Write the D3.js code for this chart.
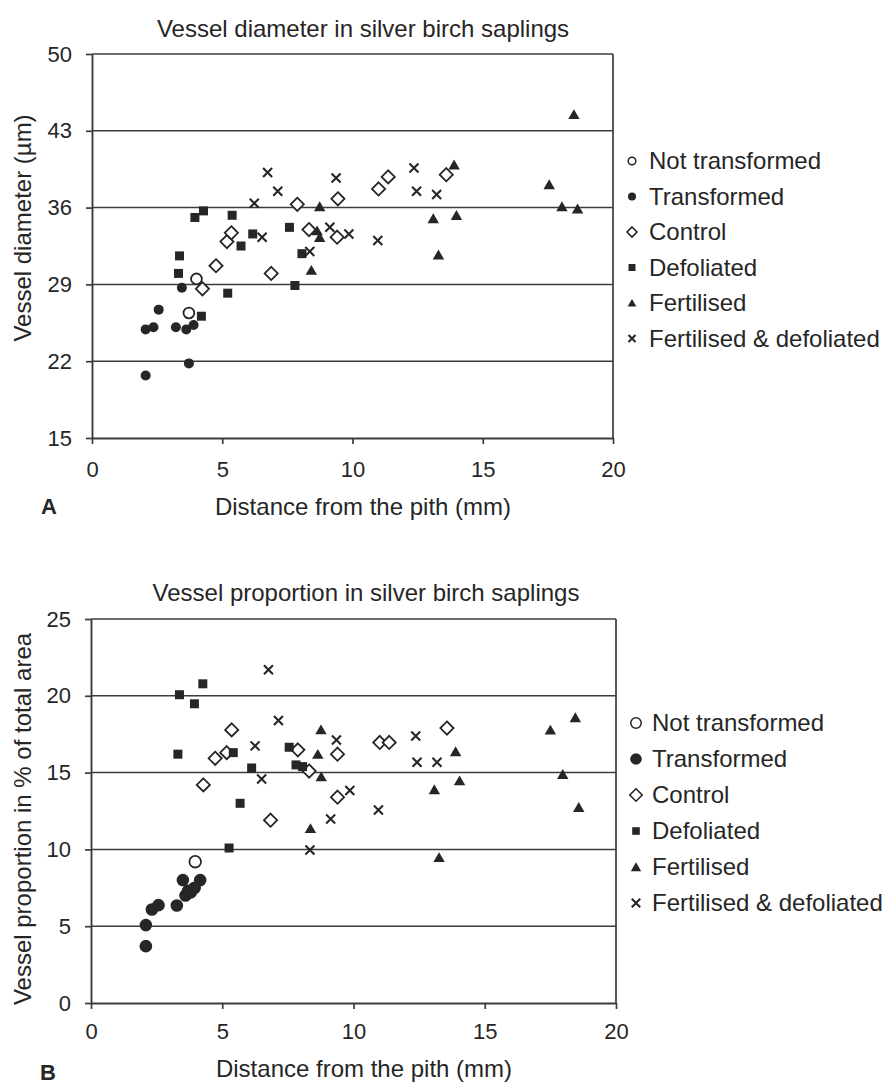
<!DOCTYPE html>
<html>
<head>
<meta charset="utf-8">
<script src="https://cdn.jsdelivr.net/npm/d3@7"></script>
<style>
  html, body { margin: 0; padding: 0; background: #fff; }
  svg { display: block; font-family: "Liberation Sans", Arial, sans-serif; }
</style>
</head>
<body>
<svg id="chart" width="884" height="1084"></svg>
<script>
// ---------- DATA ----------
const seriesNames = ["Not transformed", "Transformed", "Control", "Defoliated", "Fertilised", "Fertilised & defoliated"];
const xTicks = [0, 5, 10, 15, 20];
const yTicksA = [15, 22, 29, 36, 43, 50];
const yTicksB = [0, 5, 10, 15, 20, 25];

// Panel A: vessel diameter (µm) vs distance from pith (mm)
const notTransAx = [4.01, 3.72];
const notTransAy = [29.5, 26.4];
const transAx = [2.06, 2.36, 2.56, 3.22, 3.45, 3.62, 3.9, 2.06, 3.72];
const transAy = [24.9, 25.1, 26.7, 25.1, 28.7, 24.9, 25.3, 20.7, 21.8];
const controlAx = [4.24, 4.76, 5.18, 5.35, 6.88, 7.88, 8.33, 9.44, 9.41, 11.0, 11.37, 13.6];
const controlAy = [28.6, 30.7, 32.9, 33.7, 30.0, 36.3, 34.0, 36.8, 33.3, 37.7, 38.8, 39.0];
const defolAx = [3.95, 4.28, 3.36, 3.32, 5.38, 6.17, 5.72, 5.21, 4.2, 7.58, 8.06, 7.79];
const defolAy = [35.1, 35.7, 31.6, 30.0, 35.3, 33.6, 32.5, 28.2, 26.1, 34.2, 31.8, 28.9];
const fertAx = [8.74, 8.64, 8.74, 8.42, 13.9, 13.1, 13.99, 13.3, 18.5, 17.55, 18.04, 18.64];
const fertAy = [36.1, 33.9, 33.3, 30.3, 39.9, 35.0, 35.3, 31.7, 44.5, 38.1, 36.1, 35.9];
const fertDefAx = [6.74, 7.13, 6.23, 6.53, 8.36, 9.37, 9.13, 9.86, 10.97, 12.36, 12.46, 13.23];
const fertDefAy = [39.2, 37.5, 36.4, 33.3, 32.0, 38.7, 34.2, 33.6, 33.0, 39.6, 37.5, 37.2];

// Panel B: vessel proportion (% of total area) vs distance from pith (mm)
const notTransBx = [3.97];
const notTransBy = [9.2];
const transBx = [2.09, 2.09, 2.32, 2.57, 3.27, 3.5, 3.6, 3.8, 4.16, 3.7, 3.95];
const transBy = [5.07, 3.7, 6.09, 6.37, 6.35, 8.0, 7.0, 7.2, 8.0, 7.3, 7.5];
const controlBx = [4.28, 4.73, 5.17, 5.36, 6.84, 7.88, 8.31, 9.39, 9.39, 11.0, 11.36, 13.56];
const controlBy = [14.2, 15.93, 16.3, 17.78, 11.9, 16.48, 15.1, 16.2, 13.4, 16.96, 16.96, 17.9];
const defolBx = [3.37, 4.26, 3.94, 3.31, 5.42, 6.12, 5.68, 5.26, 7.55, 7.81, 8.06];
const defolBy = [20.07, 20.78, 19.48, 16.2, 16.3, 15.3, 13.0, 10.09, 16.65, 15.5, 15.39];
const fertBx = [8.76, 8.64, 8.77, 8.36, 13.89, 14.04, 13.08, 13.26, 17.5, 18.45, 17.97, 18.58];
const fertBy = [17.8, 16.2, 14.74, 11.37, 16.37, 14.48, 13.9, 9.48, 17.78, 18.59, 14.89, 12.74];
const fertDefBx = [6.76, 7.14, 6.25, 6.5, 8.34, 9.35, 9.13, 9.86, 10.95, 12.37, 12.42, 13.18];
const fertDefBy = [21.7, 18.39, 16.74, 14.59, 9.96, 17.13, 11.98, 13.83, 12.57, 17.39, 15.67, 15.67];

// ---------- DRAWING ----------
const svg = d3.select("#chart");
const INK = "#262626";
const TXT = "#262626";
const LINE = "#3c3c3c";

function zip(xs, ys) { return xs.map((x, i) => ({ x, y: ys[i] })); }

// marker path generators (size s)
const shapes = {
  circle: s => { const r = s; return `M${-r},0A${r},${r} 0 1,0 ${r},0A${r},${r} 0 1,0 ${-r},0Z`; },
  diamond: s => `M0,${-s}L${s},0L0,${s}L${-s},0Z`,
  square: s => `M${-s},${-s}H${s}V${s}H${-s}Z`,
  triangle: s => `M0,${-s * 1.0}L${s * 1.1},${s * 0.9}L${-s * 1.1},${s * 0.9}Z`,
  cross: s => `M${-s},${-s}L${s},${s}M${s},${-s}L${-s},${s}`
};

function drawMarker(g, kind, s) {
  const p = g.append("path").attr("d", shapes[kind.shape](s));
  if (kind.fill) p.attr("fill", INK).attr("stroke", "none");
  else p.attr("fill", "#fff").attr("stroke", INK).attr("stroke-width", kind.sw);
  if (kind.shape === "cross") p.attr("fill", "none").attr("stroke", INK).attr("stroke-width", kind.sw);
  return p;
}

function panel(cfg) {
  const x = d3.scaleLinear().domain([0, 20]).range([cfg.left, cfg.right]);
  const y = d3.scaleLinear().domain(cfg.yDomain).range([cfg.bottom, cfg.top]);
  const g = svg.append("g");

  // gridlines
  g.append("g").selectAll("line").data(cfg.yTicks.slice(1)).join("line")
    .attr("x1", cfg.left).attr("x2", cfg.right)
    .attr("y1", d => y(d)).attr("y2", d => y(d))
    .attr("stroke", LINE).attr("stroke-width", 1.5);
  // right border
  g.append("line").attr("x1", cfg.right).attr("x2", cfg.right)
    .attr("y1", cfg.top).attr("y2", cfg.bottom)
    .attr("stroke", LINE).attr("stroke-width", 1.7);

  // axes
  const xAxis = d3.axisBottom(x).tickValues(xTicks).tickSize(6).tickPadding(cfg.xPad).tickSizeOuter(0);
  const gx = g.append("g").attr("transform", `translate(0,${cfg.bottom})`).call(xAxis);
  const yAxis = d3.axisLeft(y).tickValues(cfg.yTicks).tickSize(6).tickPadding(14).tickSizeOuter(0);
  const gy = g.append("g").attr("transform", `translate(${cfg.left},0)`).call(yAxis);
  [gx, gy].forEach(a => {
    a.select(".domain").attr("stroke", LINE).attr("stroke-width", 1.9);
    a.selectAll(".tick line").attr("stroke", LINE).attr("stroke-width", 1.7);
    a.selectAll(".tick text").attr("fill", TXT).style("font-size", "22px")
      .style("font-family", '"Liberation Sans", Arial, sans-serif');
  });
  gx.selectAll(".tick text").attr("dy", "0.71em");

  // series
  cfg.series.forEach(sr => {
    const pts = zip(sr.xs, sr.ys);
    const sg = g.append("g");
    pts.forEach(p => {
      const mg = sg.append("g").attr("transform", `translate(${x(p.x)},${y(p.y)})`);
      drawMarker(mg, sr.kind, sr.size);
    });
  });

  // title
  svg.append("text").attr("x", cfg.titleX).attr("y", cfg.titleY)
    .attr("text-anchor", "middle").attr("fill", TXT).style("font-size", "24px")
    .text(cfg.title);
  // x label
  svg.append("text").attr("x", cfg.xLabelX).attr("y", cfg.xLabelY)
    .attr("text-anchor", "middle").attr("fill", TXT).style("font-size", "24px")
    .text("Distance from the pith (mm)");
  // y label
  svg.append("text").attr("transform", `translate(${cfg.yLabelX},${cfg.yLabelY}) rotate(-90)`)
    .attr("text-anchor", "middle").attr("fill", TXT).style("font-size", "24px")
    .text(cfg.yLabel);
  // panel letter
  svg.append("text").attr("x", cfg.letterX).attr("y", cfg.letterY)
    .attr("fill", TXT).style("font-size", "22px").style("font-weight", "bold")
    .text(cfg.letter);

  // legend
  const lg = svg.append("g");
  cfg.series.forEach((sr, i) => {
    const cy = cfg.legendY + i * cfg.legendStep;
    const mg = lg.append("g").attr("transform", `translate(${cfg.legendMX},${cy})`);
    drawMarker(mg, sr.legendKind || sr.kind, sr.legendSize);
    lg.append("text").attr("x", cfg.legendTX).attr("y", cy + 8)
      .attr("fill", TXT).style("font-size", "24px").text(seriesNames[i]);
  });
}

const K = {
  open: { shape: "circle", fill: false, sw: 1.8 },
  filled: { shape: "circle", fill: true },
  diamond: { shape: "diamond", fill: false, sw: 1.8 },
  square: { shape: "square", fill: true },
  triangle: { shape: "triangle", fill: true },
  cross: { shape: "cross", sw: 2.1 }
};
const legendSmallOpen = { shape: "circle", fill: false, sw: 1.5 };
const legendSmallDiamond = { shape: "diamond", fill: false, sw: 1.6 };

panel({
  left: 92, right: 613, top: 54, bottom: 438,
  yDomain: [15, 50], yTicks: yTicksA, xPad: 17,
  title: "Vessel diameter in silver birch saplings", titleX: 363, titleY: 37,
  xLabelX: 363, xLabelY: 515,
  yLabel: "Vessel diameter (µm)", yLabelX: 31, yLabelY: 228,
  letter: "A", letterX: 41, letterY: 514,
  legendY: 161, legendStep: 35.5, legendMX: 632, legendTX: 649,
  series: [
    { xs: notTransAx, ys: notTransAy, kind: K.open, size: 5.4, legendKind: legendSmallOpen, legendSize: 3.8 },
    { xs: transAx, ys: transAy, kind: K.filled, size: 5, legendSize: 4 },
    { xs: controlAx, ys: controlAy, kind: K.diamond, size: 6.6, legendKind: legendSmallDiamond, legendSize: 5 },
    { xs: defolAx, ys: defolAy, kind: K.square, size: 4.5, legendSize: 3.5 },
    { xs: fertAx, ys: fertAy, kind: K.triangle, size: 5.2, legendSize: 4 },
    { xs: fertDefAx, ys: fertDefAy, kind: K.cross, size: 4.5, legendSize: 3.5 }
  ]
});

panel({
  left: 91, right: 616, top: 619, bottom: 1003,
  yDomain: [0, 25], yTicks: yTicksB, xPad: 14,
  title: "Vessel proportion in silver birch saplings", titleX: 366, titleY: 601,
  xLabelX: 364, xLabelY: 1077,
  yLabel: "Vessel proportion in % of total area", yLabelX: 31, yLabelY: 819,
  letter: "B", letterX: 40, letterY: 1080,
  legendY: 723, legendStep: 36, legendMX: 636, legendTX: 652,
  series: [
    { xs: notTransBx, ys: notTransBy, kind: K.open, size: 5.8, legendKind: legendSmallOpen, legendSize: 5.2 },
    { xs: transBx, ys: transBy, kind: K.filled, size: 6.3, legendSize: 5.8 },
    { xs: controlBx, ys: controlBy, kind: K.diamond, size: 6.6, legendKind: legendSmallDiamond, legendSize: 6.2 },
    { xs: defolBx, ys: defolBy, kind: K.square, size: 4.5, legendSize: 3.8 },
    { xs: fertBx, ys: fertBy, kind: K.triangle, size: 5.2, legendSize: 4.7 },
    { xs: fertDefBx, ys: fertDefBy, kind: K.cross, size: 4.5, legendSize: 4.2 }
  ]
});
</script>
</body>
</html>
